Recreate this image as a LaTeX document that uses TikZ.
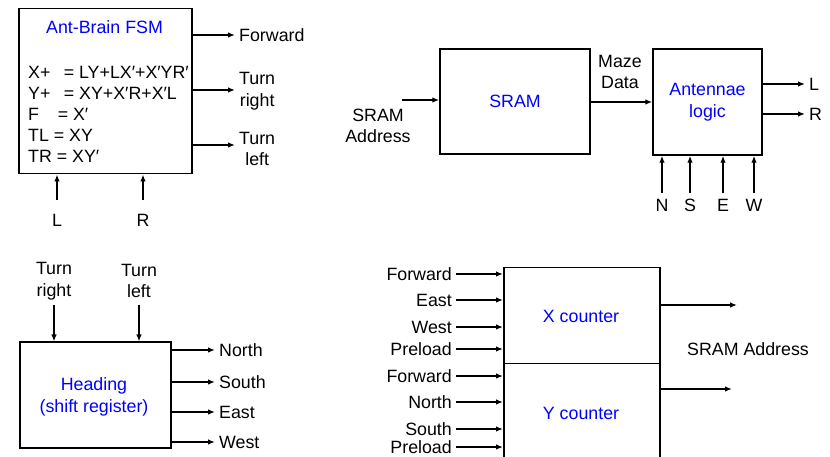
\documentclass[tikz,border=0pt]{standalone}
\usepackage{fontspec}
\setmainfont{Liberation Sans}
\usetikzlibrary{arrows.meta}
\begin{document}
\begin{tikzpicture}[x=1pt,y=1pt,
  box/.style={draw,line width=1.5pt,inner sep=0pt},
  lbl/.style={inner xsep=4pt,inner ysep=2pt,align=center,font=\fontsize{17.8}{21.5}\selectfont},
  blk/.style={lbl,text=blue},
  arr/.style={line width=1.3pt,-{Latex[length=7pt,width=5.5pt]}}]
\path[use as bounding box,clip] (0,0) rectangle (830,457);

\node[box,anchor=north west,minimum width=173pt,minimum height=165pt] (fsm) at (18,449) {};
\node[blk] (fsmname) at (104.5,430) {Ant-Brain FSM};
\node[lbl,anchor=west,align=left,inner xsep=2pt,font=\fontsize{17.8}{21}\selectfont] (eqns) at (26,343)
  {X+\hspace{0.75em}= LY+LX′+X′YR′\\Y+\hspace{0.75em}= XY+X′R+X′L\\F\hspace{1.05em}= X′\\TL = XY\\TR = XY′};
\node[lbl,anchor=west] (fwd) at (235,422) {Forward};
\node[lbl,anchor=west] (tright) at (235,366) {Turn\\right};
\node[lbl,anchor=west] (tleft) at (235,308) {Turn\\left};
\node[lbl] (inl) at (57,237) {L};
\node[lbl] (inr) at (143,237) {R};
\draw[arr] (fsm.east |- 0,422) -- (fwd.west |- 0,422);
\draw[arr] (fsm.east |- 0,367) -- (tright.west |- 0,367);
\draw[arr] (fsm.east |- 0,312) -- (tleft.west |- 0,312);
\draw[arr] (57,257) -- (inl |- fsm.south);
\draw[arr] (143,257) -- (inr |- fsm.south);

\node[box,minimum width=150pt,minimum height=105pt] (sram) at (515,355.5) {};
\node[blk] (sramname) at (sram) {SRAM};
\node[lbl] (addr) at (378,331) {SRAM\\Address};
\node[lbl] (maze) at (620,385) {Maze\\Data};
\node[box,minimum width=109pt,minimum height=106pt] (ant) at (707.5,355) {};
\node[blk] (antname) at (ant) {Antennae\\logic};
\node[lbl,anchor=west] (outl) at (805,373) {L};
\node[lbl,anchor=west] (outr) at (805,343) {R};
\coordinate (addrin) at (402,357);
\draw[arr] (addrin) -- (sram.west |- addrin);
\draw[arr] (sram.east |- 0,355) -- (ant.west |- 0,355);
\draw[arr] (ant.east |- outl) -- (outl.west);
\draw[arr] (ant.east |- outr) -- (outr.west);
\foreach \x/\d in {662/N,690/S,723/E,754/W} {
  \node[lbl] (in\d) at (\x,252) {\d};
  \draw[arr] (\x,264) -- (in\d |- ant.south);
}

\node[box,anchor=south west,minimum width=151pt,minimum height=106pt] (head) at (19,8) {};
\node[blk] (headname) at (94,60) {Heading\\(shift register)};
\node[lbl] (hright) at (54,176) {Turn\\right};
\node[lbl] (hleft) at (139,176) {Turn\\left};
\draw[arr] (54,152) -- (hright |- head.north);
\draw[arr] (139,152) -- (hleft |- head.north);
\foreach \y/\d in {107/North,75/South,45/East,15/West} {
  \node[lbl,anchor=west] (h\d) at (215,\y) {\d};
  \draw[arr] (head.east |- h\d) -- (h\d.west);
}

\node[box,anchor=north west,minimum width=156pt,minimum height=96pt] (xcnt) at (503,190) {};
\node[blk] (xname) at (581,141) {X counter};
\node[box,anchor=north west,minimum width=156pt,minimum height=115pt] (ycnt) at (503,94) {};
\node[blk] (yname) at (581,44) {Y counter};
\foreach \y/\d/\n in {183/Forward/xf,157/East/xe,130/West/xw,108/Preload/xp,
                      81/Forward/yf,55/North/yn,28/South/ys,10/Preload/yp} {
  \node[lbl,anchor=east] (\n) at (456,\y) {\d};
  \draw[arr] (\n.east) -- (xcnt.west |- \n.east);
}
\coordinate (xout) at (737,152);
\coordinate (yout) at (732,68);
\draw[arr] (xcnt.east |- xout) -- (xout);
\draw[arr] (ycnt.east |- yout) -- (yout);
\node[lbl] (addrout) at (748,108) {SRAM Address};
\end{tikzpicture}
\end{document}
